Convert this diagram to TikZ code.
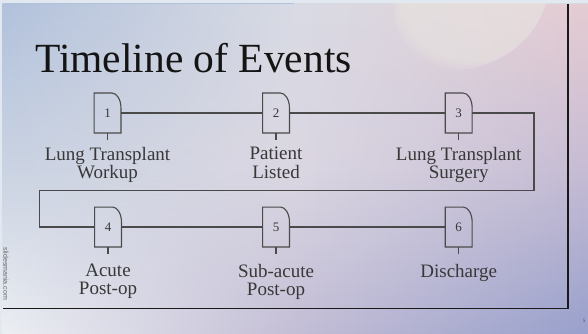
\documentclass[tikz,border=0pt]{standalone}
\usepackage{fontspec}
\setmainfont{Liberation Serif}
\newfontfamily\wmfont{Liberation Sans}
\usetikzlibrary{fadings}
\tikzfading[name=fadeinright, left color=transparent!100, right color=transparent!0]
\definecolor{tlc}{HTML}{B2C2DC}
\definecolor{mlc}{HTML}{CAD3E2}
\definecolor{blc}{HTML}{ECEFF3}
\definecolor{tcc}{HTML}{D9DBE4}
\definecolor{mcc}{HTML}{DBD7E2}
\definecolor{bcc}{HTML}{C4BED6}
\definecolor{trc}{HTML}{E6CCD3}
\definecolor{mrc}{HTML}{C6BCD4}
\definecolor{brc}{HTML}{98A0CC}
\definecolor{blobc}{HTML}{E8E4E0}
\definecolor{edgec}{HTML}{E2E8F0}
\definecolor{linec}{HTML}{4A4A4A}
\definecolor{textc}{HTML}{383838}
\tikzset{
  conn/.style={draw=linec, line width=1.1pt},
  evbox/.style={rectangle, minimum width=26.5pt, minimum height=39.5pt, inner sep=0pt,
    text=textc, font=\fontsize{13}{13}\selectfont},
  evlabel/.style={anchor=north, align=center, inner sep=0pt, text=textc,
    font=\fontsize{19}{18.3}\selectfont},
  frameline/.style={draw=black!90, line width=1.3pt},
}
\begin{document}
\begin{tikzpicture}[x=1pt,y=-1pt]
\useasboundingbox (0,0) rectangle (588,334);
% background
\fill[edgec] (0,0) rectangle (588,334);
\shade[top color=tlc, bottom color=blc, middle color=mlc] (2.5,4) rectangle (588,334);
\shade[top color=tcc, bottom color=bcc, middle color=mcc, path fading=fadeinright] (2.5,4) rectangle (294,334);
\shade[top color=tcc, bottom color=bcc, middle color=mcc] (294,4) rectangle (588,334);
\shade[top color=trc, bottom color=brc, middle color=mrc, path fading=fadeinright] (294,4) rectangle (588,334);
\begin{scope}
\clip (2.5,4) rectangle (588,334);
\fill[blobc, fill opacity=0.6, path fading=circle with fuzzy edge 20 percent, rotate around={35:(472,-2)}] (472,-2) ellipse [x radius=82, y radius=66];
\end{scope}
% title
\node[anchor=base west, inner sep=0pt, text=black!92, font=\fontsize{41.5}{41.5}\selectfont] (title) at (35,72.7) {Timeline of Events};
% event boxes
\node[evbox] (n1) at (107.5,113) {1};
\node[evbox] (n2) at (276,113) {2};
\node[evbox] (n3) at (458.7,113) {3};
\node[evbox] (n4) at (108,227) {4};
\node[evbox] (n5) at (276,227) {5};
\node[evbox] (n6) at (458.7,227) {6};
\foreach \n in {n1,n2,n3,n4,n5,n6}{
  \draw[conn] (\n.south west) -- (\n.north west) -- ([xshift=-9pt]\n.north east)
    .. controls ([xshift=-4pt]\n.north east) and ([yshift=-6.7pt]\n.north east) .. ([yshift=-15pt]\n.north east)
    -- (\n.south east) -- cycle;
  \draw[conn] (\n.south) -- ++(0,6.8);
}
% connectors
\coordinate (rb) at (534,190.7);
\coordinate (lb) at (39.3,190.7);
\draw[conn] (n1.east) -- (n2.west);
\draw[conn] (n2.east) -- (n3.west);
\draw[conn] (n3.east) -| (rb) -- (lb) |- (n4.west);
\draw[conn] (n4.east) -- (n5.west);
\draw[conn] (n5.east) -- (n6.west);
% labels
\node[evlabel] (t1) at (107.5,147) {Lung Transplant\\Workup};
\node[evlabel] (t2) at (276,147) {Patient\\Listed};
\node[evlabel] (t3) at (458.7,147) {Lung Transplant\\Surgery};
\node[evlabel] (t4) at (108,263.7) {Acute\\Post-op};
\node[evlabel] (t5) at (276,263.7) {Sub-acute\\Post-op};
\node[evlabel] (t6) at (458.7,263.7) {Discharge};
% frame
\coordinate (ft) at (568,4);
\coordinate (fc) at (568,308.7);
\coordinate (fl) at (3,308.7);
\draw[frameline] (ft) -- (fc) -- (fl);
% small texts
\node[rotate=-90, inner sep=0pt, text=black!60, font=\wmfont\fontsize{7}{7}\selectfont] (wm) at (6,274) {slidesmania.com};
\node[inner sep=0pt, text=black!70, font=\fontsize{5}{5}\selectfont] (pg) at (584,321) {5};
\end{tikzpicture}
\end{document}
